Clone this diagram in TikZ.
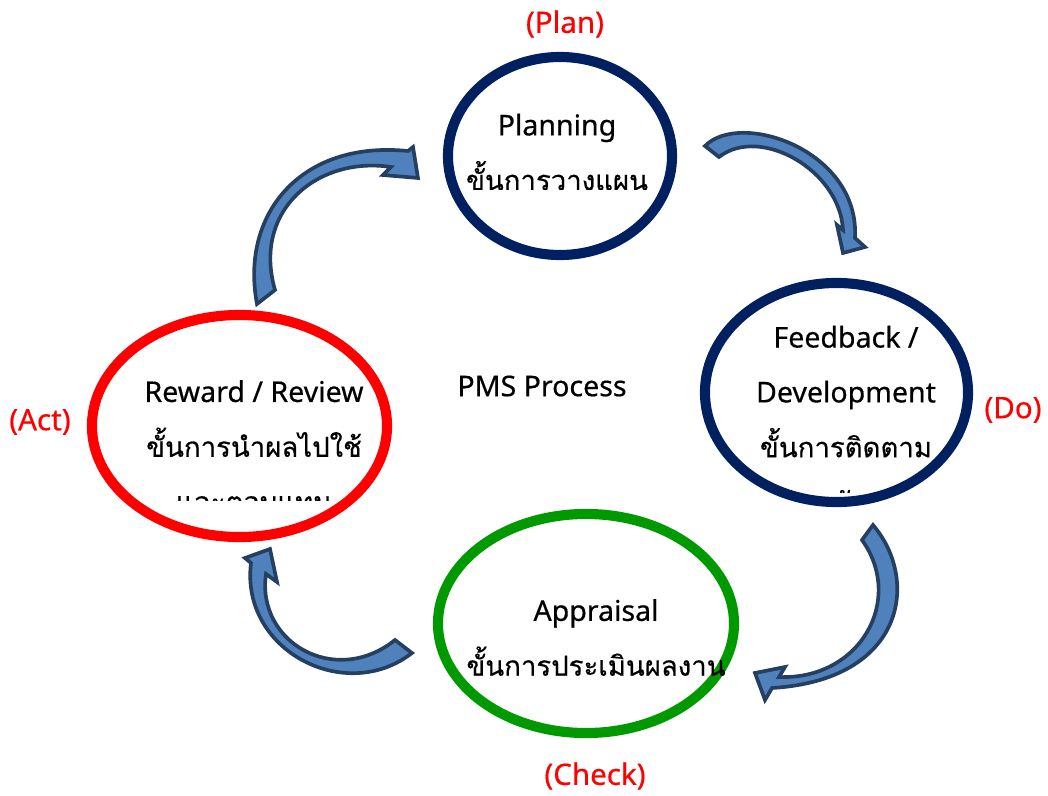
\documentclass[tikz,border=0pt]{standalone}
\usepackage{fontspec}
\newfontfamily\thaifont[Script=Thai,FakeBold=0.4]{Loma}
\newfontfamily\latinfont[FakeBold=0.5]{Noto Sans}
\usetikzlibrary{shapes.geometric}
\usetikzlibrary{positioning}

\definecolor{navyring}{HTML}{002060}
\definecolor{redring}{HTML}{FF0000}
\definecolor{greenring}{HTML}{009900}
\definecolor{arrowfill}{HTML}{4F81BD}
\definecolor{arrowline}{HTML}{243F60}

\newcommand{\thline}[1]{{\thaifont\fontsize{19.6}{39}\selectfont #1}}

\tikzset{
    stage/.style={ellipse, draw=#1, line width=7.2pt, inner sep=0pt},
    stagetext/.style={align=center, text=black, inner sep=0pt,
        font=\latinfont\fontsize{20.3}{39}\selectfont},
    phase/.style={text=redring, font=\latinfont\fontsize{21}{24}\selectfont},
    bentarrow/.style={draw=arrowline, line width=2.6pt, fill=arrowfill, line join=miter},
}

\begin{document}
\begin{tikzpicture}[x=0.025cm, y=-0.025cm]
    \useasboundingbox (0,0) rectangle (1048,796);

    % the four stages
    \node (plan) at(560,156) [
        stage=navyring,
        minimum width=5.6cm, minimum height=4.95cm,
    ] {};
    \node (do) at(836.5,392.5) [
        stage=navyring,
        minimum width=6.575cm, minimum height=5.475cm,
    ] {};
    \node (act) at(239.5,426) [
        stage=redring,
        minimum width=7.375cm, minimum height=5.55cm,
    ] {};
    \node (check) at(586,623.5) [
        stage=greenring,
        minimum width=7.4cm, minimum height=5.475cm,
    ] {};

    % texts, cut off at the bottom of their boxes
    \begin{scope}
        \clip (450,60) rectangle (670,189);
        \node (planText) at(557,152) [stagetext] {Planning\\\thline{ขั้นการวางแผน}};
    \end{scope}
    \begin{scope}
        \clip (710,290) rectangle (965,492);
        \node (doText) at(846,419) [stagetext] {Feedback /\\Development\\\thline{ขั้นการติดตาม}\\\thline{และพัฒนา}};
    \end{scope}
    \begin{scope}
        \clip (100,320) rectangle (385,500);
        \node (actText) at(254,446) [stagetext] {Reward / Review\\\thline{ขั้นการนำผลไปใช้}\\\thline{และตอบแทน}};
    \end{scope}
    \begin{scope}
        \clip (440,560) rectangle (735,675);
        \node (checkText) at(596,637.5) [stagetext] {Appraisal\\\thline{ขั้นการประเมินผลงาน}};
    \end{scope}

    \node (title) at(542,386) [stagetext] {PMS Process};

    % PDCA tags
    \node (planTag) at(565,24) [phase] {(Plan)};
    \node (doTag) at(1013,410) [phase] {(Do)};
    \node (actTag) at(40,422) [phase] {(Act)};
    \node (checkTag) at(595,776) [phase] {(Check)};

    % curved arrows between the stages
    \draw[bentarrow] (257,304) .. controls (240,215) and (300,140) .. (408,151)
        -- (413,147) -- (418,178) -- (383,175) -- (391,167)
        .. controls (318,156) and (252,210) .. (275,290) -- cycle;
    \draw[bentarrow] (705,146) .. controls (740,110) and (860,150) .. (855,238)
        -- (865,247) -- (843,253) -- (837,225) -- (843,230)
        .. controls (840,170) and (760,125) .. (719,157) -- cycle;
    \draw[bentarrow] (873,525) .. controls (920,580) and (905,680) .. (772,688)
        -- (765,700) -- (755,673) -- (785,667) -- (779,677)
        .. controls (860,680) and (905,600) .. (862,540) -- cycle;
    \draw[bentarrow] (412,653) .. controls (345,705) and (240,650) .. (251,563)
        -- (245,558) -- (270,549) -- (277,582) -- (266,574)
        .. controls (256,642) and (335,688) .. (395,640) -- cycle;
\end{tikzpicture}
\end{document}
